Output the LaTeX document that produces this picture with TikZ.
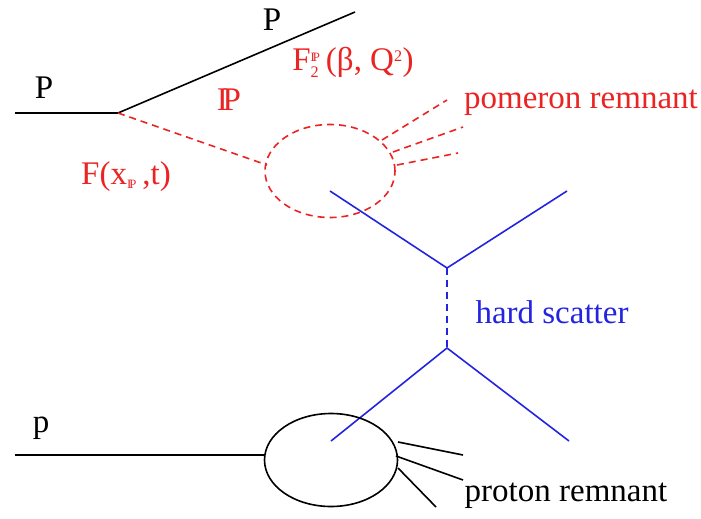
\documentclass[tikz,border=0pt]{standalone}
\usepackage{amssymb}
\usepackage{amsmath}
\usepackage{fontspec}
\setmainfont{Liberation Serif}
\usepackage{tikz}
\usetikzlibrary{calc,shapes.geometric}

\definecolor{pomred}{RGB}{235,35,35}
\definecolor{hardblue}{RGB}{35,35,225}
\newcommand{\IP}{\mbox{I\kern-0.16em P}}

\begin{document}
\begin{tikzpicture}[x=1pt,y=-1pt,
    line width=1.6pt,
    lab/.style={font=\fontsize{33}{35}\selectfont, inner sep=0pt},
    pom/.style={pomred, dash pattern=on 7pt off 5pt},
    hard/.style={hardblue}]
    \useasboundingbox (0,0) rectangle (701,519);

    % Protonen oben
    \coordinate (Pin) at (15,113);
    \coordinate (V) at (118,113);
    \coordinate (Pout) at (355,12);
    \draw (Pin) -- (V) -- (Pout);
    \node[lab] (Pl) at (44,88) {P};
    \node[lab] (Pr) at (272,20) {P};

    % Pomeron
    \node[pom, draw, ellipse, minimum width=130pt, minimum height=93pt, inner sep=0pt] (blob) at (330,171) {};
    \coordinate (Pe) at (267,165);
    \draw[pom] (V) -- (Pe);
    \node[lab, pomred] (IPl) at (229,100) {\IP};
    \node[lab, pomred] (flux) at (126,177) {F(x\textsubscript{\scalebox{0.55}{\IP}}\,,t)};
    \node[lab, pomred] (F2) at (353,62) {F$_{\text{\scalebox{0.7}{2}}}^{\text{\scalebox{0.55}{\IP}}}$\,(β, Q$^{\text{\scalebox{0.7}{2}}}$)};

    % Pomeron-Rest
    \foreach \ax/\ay/\bx/\by [count=\i] in {382/140/447/100, 393/152/463/127, 397/165/458/153} {
        \coordinate (ra\i) at (\ax,\ay);
        \coordinate (rb\i) at (\bx,\by);
        \draw[pom] (ra\i) -- (rb\i);
    }
    \node[lab, pomred] (pomrem) at (581,103) {pomeron remnant};

    % harte Streuung
    \coordinate (H1) at (447,268);
    \coordinate (H2) at (447,348);
    \coordinate (Q1) at (330,191);
    \coordinate (Q2) at (567,191);
    \coordinate (Q3) at (331,441);
    \coordinate (Q4) at (569,441);
    \draw[hard] (Q1) -- (H1) -- (Q2);
    \draw[hard] (Q3) -- (H2) -- (Q4);
    \draw[hard, dash pattern=on 7pt off 5pt] (H1) -- (H2);
    \node[lab, hardblue] (hs) at (552,312) {hard scatter};

    % Proton unten
    \node[draw, ellipse, minimum width=133pt, minimum height=93pt, inner sep=0pt] (prot) at (331,460) {};
    \coordinate (pin) at (15,455);
    \draw (pin) -- (prot.west |- pin);
    \node[lab] (pl) at (41,428) {p};

    % Proton-Rest
    \foreach \ax/\ay/\bx/\by [count=\i] in {398/442/463/455, 396/456/463/480, 398/468/436/507} {
        \coordinate (sa\i) at (\ax,\ay);
        \coordinate (sb\i) at (\bx,\by);
        \draw (sa\i) -- (sb\i);
    }
    \node[lab] (protrem) at (566,496) {proton remnant};
\end{tikzpicture}
\end{document}
